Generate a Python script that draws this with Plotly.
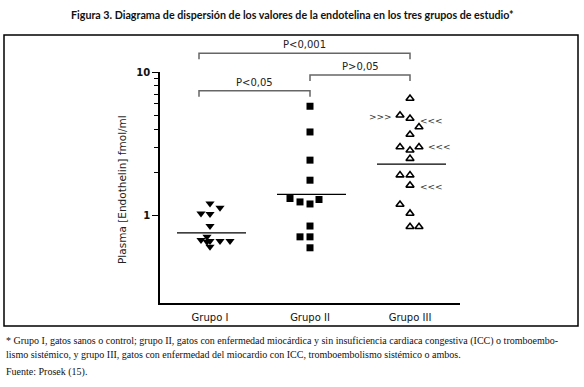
import math
import plotly.graph_objects as go

# ---------------- data ----------------
groups = ["Grupo I", "Grupo II", "Grupo III"]
values_I = [1.22, 1.14, 1.04, 1.03, 0.85, 0.68, 0.715, 0.66, 0.67, 0.67, 0.67, 0.61]
jitter_I = [0, 0.1, -0.09, 0, 0, -0.09, -0.03, -0.03, 0, 0.1, 0.2, 0]
values_II = [5.78, 3.83, 2.44, 1.77, 1.32, 1.25, 1.21, 1.30, 0.85, 0.715, 0.715, 0.60]
jitter_II = [0, 0, 0, 0, -0.2, -0.1, 0, 0.09, 0, -0.1, 0, 0]
values_III = [6.54, 5.0, 4.75, 4.15, 3.68, 3.01, 2.86, 3.01, 2.50, 1.92, 1.92, 1.63, 1.20, 1.04, 0.84, 0.84]
jitter_III = [0, -0.1, 0, 0.09, 0, -0.1, 0, 0.09, 0, -0.1, 0, 0, -0.1, 0, 0, 0.09]
medians = [0.762, 1.41, 2.29]
y_tick_vals = [1, 10]
y_tick_text = ["<b>1</b>", "<b>10</b>"]
y_minor_vals = [2, 3, 4, 5, 6, 7, 8, 9]
comparisons = [  # (from group, to group, label, level px)
    (0, 1, "P<0,05", 90.7),
    (1, 2, "P>0,05", 75.0),
    (0, 2, "P<0,001", 53.3),
]
arrow_marks = [  # (text, x, value)
    (">>>", 2.70, 4.85),
    ("<<<", 3.21, 4.6),
    ("<<<", 3.29, 3.01),
    ("<<<", 3.21, 1.60),
]
title_text = "Figura 3. Diagrama de dispersión de los valores de la endotelina en los tres grupos de estudio*"
foot_lines = [
    "* Grupo I, gatos sanos o control; grupo II, gatos con enfermedad miocárdica y sin insuficiencia cardiaca congestiva (ICC) o tromboembo-",
    "lismo sistémico, y grupo III, gatos con enfermedad del miocardio con ICC, tromboembolismo sistémico o ambos.",
    "Fuente: Prosek (15).",
]
y_title = "Plasma [Endothelin] fmol/ml"

# ---------------- layout geometry ----------------
W, H = 584, 387
L, R, T, B = 160, 124, 72, 84
PW, PH = W - L - R, H - T - B


def px(x):
    return (x - L) / PW


def py(y):
    return 1 - (y - T) / PH


fig = go.Figure()

pos = [1, 2, 3]
fig.add_trace(go.Scatter(
    x=[pos[0] + j for j in jitter_I], y=values_I, mode="markers",
    marker=dict(symbol="triangle-down", size=8, color="black"), showlegend=False))
fig.add_trace(go.Scatter(
    x=[pos[1] + j for j in jitter_II], y=values_II, mode="markers",
    marker=dict(symbol="square", size=7, color="black"), showlegend=False))
fig.add_trace(go.Scatter(
    x=[pos[2] + j for j in jitter_III], y=values_III, mode="markers",
    marker=dict(symbol="triangle-up-open", size=7, color="black", line=dict(width=1.6, color="black")),
    showlegend=False))

for p, m in zip(pos, medians):
    fig.add_trace(go.Scatter(x=[p - 0.33, p + 0.36], y=[m, m], mode="lines",
                             line=dict(color="black", width=1.3), showlegend=False, hoverinfo="skip"))

shapes = []
annotations = []
bracket_color = "#666666"
for a, b, lab, lev in comparisons:
    xa = pos[a] - 0.11 if a == 0 else pos[a]
    xb = pos[b]
    ya, yd = py(lev), py(lev + 6)
    shapes.append(dict(type="path", xref="x", yref="paper",
                       path=f"M {xa},{yd} L {xa},{ya} L {xb},{ya} L {xb},{yd}",
                       line=dict(color=bracket_color, width=1.5)))
    annotations.append(dict(x=(xa + xb) / 2, y=ya, xref="x", yref="paper", text=lab,
                            showarrow=False, yanchor="bottom", yshift=1,
                            font=dict(family="DejaVu Sans", size=10, color="#222")))

for t, x, v in arrow_marks:
    annotations.append(dict(x=x, y=math.log10(v), xref="x", yref="y", text=t, showarrow=False,
                            font=dict(family="DejaVu Sans", size=9, color="#333")))

# outer frame
shapes.append(dict(type="rect", xref="paper", yref="paper", x0=px(4), x1=px(578), y0=py(326), y1=py(35),
                   line=dict(color="black", width=1.5)))

annotations.append(dict(x=px(292), y=py(14), xref="paper", yref="paper", text="<b>" + title_text + "</b>",
                        showarrow=False, xanchor="center", yanchor="middle",
                        font=dict(family="Lato", size=10.7, color="#111")))
for line, yy in zip(foot_lines, [341, 354, 372]):
    annotations.append(dict(x=px(4), y=py(yy), xref="paper", yref="paper", text=line, showarrow=False,
                            xanchor="left", yanchor="middle",
                            font=dict(family="Liberation Serif", size=10, color="#111")))
annotations.append(dict(x=px(122), y=py(190), xref="paper", yref="paper", text=y_title, textangle=-90,
                        showarrow=False, xanchor="center", yanchor="middle",
                        font=dict(family="DejaVu Sans", size=10.5, color="#222")))

fig.update_layout(
    width=W, height=H, margin=dict(l=L, r=R, t=T, b=B),
    paper_bgcolor="white", plot_bgcolor="white",
    shapes=shapes, annotations=annotations,
    xaxis=dict(range=[0.5, 3.5], tickvals=pos, ticktext=groups, showgrid=False, zeroline=False,
               showline=True, linecolor="black", linewidth=1.5, ticks="", ticklabelstandoff=4,
               tickfont=dict(family="DejaVu Sans", size=10, color="#111")),
    yaxis=dict(type="log", range=[math.log10(0.248), 1], tickvals=y_tick_vals, ticktext=y_tick_text,
               showgrid=False, zeroline=False, showline=True, linecolor="black", linewidth=1.5,
               ticks="outside", ticklen=6, tickwidth=1.3, tickcolor="black",
               tickfont=dict(family="DejaVu Sans", size=10, color="#111"),
               minor=dict(tickvals=y_minor_vals, ticks="outside", ticklen=4, tickwidth=1, tickcolor="black")),
)

fig.write_html("out.html", config={"displayModeBar": False},
               post_script="document.body.style.margin='0px';")
